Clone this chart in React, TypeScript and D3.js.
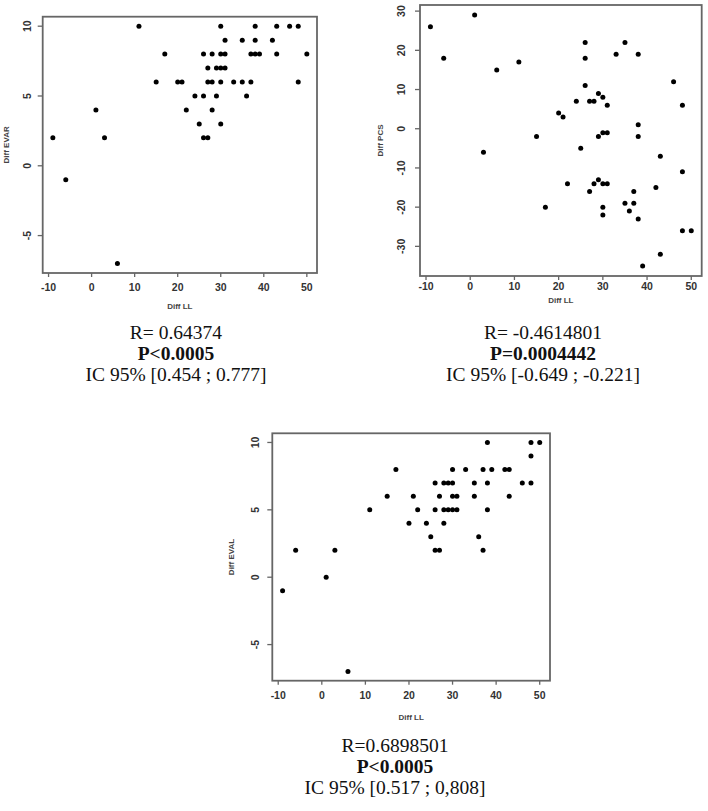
import React from "react";
import * as d3 from "d3";

// Plot 1: Diff LL vs Diff EVAR
const llA = [-9,-6,1,3,6,11,15,17,20,21,22,24,25,26,26,26,27,27,27,28,28,28,29,29,30,30,30,30,30,31,31,31,33,35,35,36,37,37,38,38,38,39,42,43,43,46,48,48,50];
const evar = [2,-1,4,2,-7,10,6,8,6,6,4,5,3,8,5,2,2,7,6,8,6,4,7,5,10,8,7,6,3,9,8,7,6,9,6,5,8,6,10,9,8,8,9,10,8,10,10,6,8];

// Plot 2: Diff LL vs Diff PCS
const llB = [-9,-6,1,3,6,11,15,17,20,21,22,24,25,26,26,26,27,27,28,28,29,29,29,30,30,30,30,30,31,31,31,33,35,35,36,37,37,38,38,38,38,39,42,43,43,46,48,48,48,50];
const pcs = [26,18,29,-6,15,17,-2,-20,4,3,-14,7,-5,22,18,11,7,-16,7,-14,9,-2,-13,8,-1,-14,-20,-22,6,-1,-14,19,22,-19,-21,-16,-19,19,1,-2,-23,-35,-15,-7,-32,12,6,-11,-26,-26];

// Plot 3: Diff LL vs Diff EVAL
const llC = [-9,-6,1,3,6,11,15,17,20,21,22,24,25,26,26,26,27,27,28,28,28,29,29,30,30,30,30,31,31,33,35,35,36,37,37,38,38,38,39,42,43,43,46,48,48,48,50];
const evalV = [-1,2,0,2,-7,5,6,8,4,6,5,4,3,7,5,2,2,6,7,5,4,7,5,8,7,6,5,6,5,8,7,6,3,8,2,10,7,5,8,8,8,6,7,10,9,7,10];

const xTicks = [-10, 0, 10, 20, 30, 40, 50];
const yTicksEvar = [-5, 0, 5, 10];
const yTicksPcs = [-30, -20, -10, 0, 10, 20, 30];
const yTicksEval = [-5, 0, 5, 10];

const statsA = ["R= 0.64374", "P<0.0005", "IC 95% [0.454 ; 0.777]"];
const statsB = ["R= -0.4614801", "P=0.0004442", "IC 95% [-0.649 ; -0.221]"];
const statsC = ["R=0.6898501", "P<0.0005", "IC 95% [0.517 ; 0,808]"];

const xTitle = "Diff LL";
const yTitles = ["Diff EVAR", "Diff PCS", "Diff EVAL"];

function padDomain(vals: number[]): [number, number] {
  const [lo, hi] = d3.extent(vals) as [number, number];
  const p = (hi - lo) * 0.04;
  return [lo - p, hi + p];
}

type Box = { l: number; r: number; t: number; b: number };

function Scatter(props: {
  box: Box; xs: number[]; ys: number[]; xt: number[]; yt: number[];
  ylab: string; xLabOff: number; xTitleOff: number; yLabX: number; yTitleX: number;
}) {
  const { box, xs, ys, xt, yt, ylab, xLabOff, xTitleOff, yLabX, yTitleX } = props;
  const x = d3.scaleLinear().domain(padDomain(xs)).range([box.l, box.r]);
  const y = d3.scaleLinear().domain(padDomain(ys)).range([box.b, box.t]);
  const cy = (box.t + box.b) / 2;
  const cx = (box.l + box.r) / 2;
  const tickFont = { fontFamily: "Liberation Sans, Arial, sans-serif", fontSize: 10.5, fontWeight: 700, fill: "#333" } as const;
  return (
    <g>
      <rect x={box.l} y={box.t} width={box.r - box.l} height={box.b - box.t} fill="none" stroke="#666" strokeWidth={1.8} />
      {xt.map((v) => (
        <g key={"x" + v}>
          <line x1={x(v)} x2={x(v)} y1={box.b} y2={box.b + 4} stroke="#666" strokeWidth={1.3} />
          <text x={x(v)} y={box.b + xLabOff} textAnchor="middle" dominantBaseline="middle" {...tickFont}>{v}</text>
        </g>
      ))}
      {yt.map((v) => (
        <g key={"y" + v}>
          <line x1={box.l - 5} x2={box.l} y1={y(v)} y2={y(v)} stroke="#666" strokeWidth={1.3} />
          <text transform={`translate(${yLabX},${y(v)}) rotate(-90)`} textAnchor="middle" dominantBaseline="middle" {...tickFont}>{v}</text>
        </g>
      ))}
      <text x={cx} y={box.b + xTitleOff} textAnchor="middle" dominantBaseline="middle"
        fontFamily="Liberation Sans, Arial, sans-serif" fontSize={8} fontWeight={700} fill="#444">{xTitle}</text>
      <text transform={`translate(${yTitleX},${cy}) rotate(-90)`} textAnchor="middle" dominantBaseline="middle"
        fontFamily="Liberation Sans, Arial, sans-serif" fontSize={8} fontWeight={700} fill="#444">{ylab}</text>
      {xs.map((v, i) => (
        <circle key={i} cx={x(v)} cy={y(ys[i])} r={2.5} fill="#000" />
      ))}
    </g>
  );
}

function Stats(props: { lines: string[]; cx: number; y0: number }) {
  const { lines, cx, y0 } = props;
  return (
    <g fontFamily="Liberation Serif, Times New Roman, serif" fontSize={19.5} fill="#111" textAnchor="middle">
      {lines.map((s, i) => (
        <text key={i} x={cx} y={y0 + i * 21} dominantBaseline="middle" fontWeight={i === 1 ? 700 : 400}>{s}</text>
      ))}
    </g>
  );
}

export default function App() {
  return (
    <div style={{ position: "absolute", left: 0, top: 0, width: 708, height: 811, background: "#fff" }}>
      <svg width={708} height={811} style={{ display: "block" }}>
        <rect width={708} height={811} fill="#fff" />
        <Scatter box={{ l: 42.7, r: 317, t: 16.7, b: 273 }} xs={llA} ys={evar} xt={xTicks} yt={yTicksEvar}
          ylab={yTitles[0]} xLabOff={15.5} xTitleOff={34} yLabX={28} yTitleX={7} />
        <Scatter box={{ l: 420, r: 701.7, t: 5, b: 276 }} xs={llB} ys={pcs} xt={xTicks} yt={yTicksPcs}
          ylab={yTitles[1]} xLabOff={11} xTitleOff={25} yLabX={402} yTitleX={381} />
        <Scatter box={{ l: 272.3, r: 550, t: 433.3, b: 680.7 }} xs={llC} ys={evalV} xt={xTicks} yt={yTicksEval}
          ylab={yTitles[2]} xLabOff={16} xTitleOff={37} yLabX={256} yTitleX={232} />
        <Stats lines={statsA} cx={176} y0={335} />
        <Stats lines={statsB} cx={543} y0={335} />
        <Stats lines={statsC} cx={395} y0={748} />
      </svg>
    </div>
  );
}
